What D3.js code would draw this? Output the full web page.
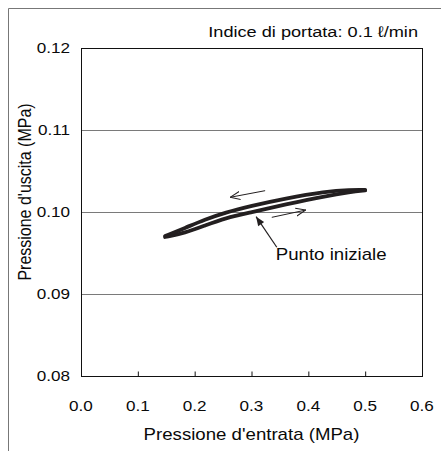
<!DOCTYPE html>
<html>
<head>
<meta charset="utf-8">
<script src="https://cdn.jsdelivr.net/npm/d3@7"></script>
<style>
  html, body { margin: 0; padding: 0; background: #fff; }
  svg { display: block; }
  text { font-family: "Liberation Sans", Arial, Helvetica, sans-serif; fill: #0a0a0a; }
</style>
</head>
<body>
<svg id="chart" width="441" height="451"></svg>
<script>
// Axis ticks
const xTicks = [0.0, 0.1, 0.2, 0.3, 0.4, 0.5, 0.6];
const yTicks = [0.08, 0.09, 0.10, 0.11, 0.12];

// Hysteresis loop: inlet pressure (MPa) vs outlet pressure (MPa)
const inletP = [0.148, 0.183, 0.218, 0.254, 0.298, 0.359, 0.430, 0.474, 0.500];
const outletRising = [0.09695, 0.09744, 0.09835, 0.09927, 0.09994, 0.10091, 0.10195, 0.10244, 0.10264];
const outletFalling = [0.09707, 0.09805, 0.09909, 0.09994, 0.10073, 0.10165, 0.10250, 0.10272, 0.10270];

// Annotation arrows [x1, y1, x2, y2] in data units
const arrowFalling = [0.324, 0.10260, 0.2623, 0.10179];
const arrowRising = [0.3357, 0.09935, 0.3956, 0.10024];
const arrowStart = [0.3445, 0.09570, 0.3081, 0.09943];
const startLabel = "Punto iniziale";
const titleText = "Indice di portata: 0.1 \u2113/min";
const xTitle = "Pressione d'entrata (MPa)";
const yTitle = "Pressione d'uscita (MPa)";

const SX = 1.18; // horizontal stretch of lettering

const svg = d3.select("#chart");
const plot = { left: 81, top: 48, right: 422, bottom: 376 };

const x = d3.scaleLinear().domain([0, 0.6]).range([plot.left, plot.right]);
const y = d3.scaleLinear().domain([0.08, 0.12]).range([plot.bottom, plot.top]);

function stretchedText(g, tx, ty, str, size, anchor, rotate) {
  return g.append("text")
    .attr("transform", rotate
      ? `translate(${tx},${ty}) rotate(-90) scale(1,${SX})`
      : `translate(${tx},${ty}) scale(${SX},1)`)
    .attr("font-size", size)
    .attr("text-anchor", anchor)
    .text(str);
}

// Outer frame (top and left edges)
svg.append("path")
  .attr("d", "M8.5,451 L8.5,8.5 L441,8.5")
  .attr("fill", "none").attr("stroke", "#777").attr("stroke-width", 1);

// Horizontal gridlines
svg.append("g").selectAll("line")
  .data(yTicks.filter(d => d > 0.08 && d < 0.12))
  .join("line")
  .attr("x1", plot.left).attr("x2", plot.right)
  .attr("y1", d => Math.round(y(d)) + 0.5).attr("y2", d => Math.round(y(d)) + 0.5)
  .attr("stroke", "#7a7a7a").attr("stroke-width", 1);

// X axis ticks pointing inward
const xAxis = d3.axisBottom(x).tickValues(xTicks).tickSize(-5).tickFormat("");
const gx = svg.append("g").attr("transform", `translate(0,${plot.bottom + 0.5})`).call(xAxis);
gx.select(".domain").remove();
gx.selectAll(".tick line").attr("stroke", "#111").attr("stroke-width", 1)
  .filter(d => d === 0 || d === 0.6).remove();

// Plot frame
svg.append("rect")
  .attr("x", plot.left + 0.5).attr("y", plot.top + 0.5)
  .attr("width", plot.right - plot.left).attr("height", plot.bottom - plot.top)
  .attr("fill", "none").attr("stroke", "#111").attr("stroke-width", 1);

// Tick labels
const labels = svg.append("g");
xTicks.forEach(d => stretchedText(labels, x(d), 411, d3.format(".1f")(d), 14.5, "middle"));
yTicks.forEach(d => stretchedText(labels, 70, y(d) + 5, d3.format(".2f")(d), 14.5, "end"));

// Axis titles and header
stretchedText(labels, (plot.left + plot.right) / 2, 440, xTitle, 15.8, "middle");
stretchedText(labels, 31, 192, yTitle, 16, "middle", true);
stretchedText(labels, 418, 37, titleText, 15.4, "end");

// Markers
const defs = svg.append("defs");
defs.append("marker")
  .attr("id", "openHead").attr("viewBox", "0 0 10 10")
  .attr("refX", 10).attr("refY", 5).attr("markerWidth", 10).attr("markerHeight", 10)
  .attr("markerUnits", "userSpaceOnUse").attr("orient", "auto")
  .append("path").attr("d", "M0,1 L10,5 L0,9")
  .attr("fill", "none").attr("stroke", "#231f20").attr("stroke-width", 1);
defs.append("marker")
  .attr("id", "solidHead").attr("viewBox", "0 0 10 10")
  .attr("refX", 10).attr("refY", 5).attr("markerWidth", 11).attr("markerHeight", 9)
  .attr("markerUnits", "userSpaceOnUse").attr("orient", "auto")
  .append("path").attr("d", "M0,1 L10,5 L0,9 Z").attr("fill", "#231f20");

// Hysteresis loop: rising and falling branches
const branchLine = d3.line().x(d => x(d[0])).y(d => y(d[1])).curve(d3.curveBasis);
[outletRising, outletFalling].forEach(series => {
  svg.append("path")
    .datum(inletP.map((p, i) => [p, series[i]]))
    .attr("d", branchLine)
    .attr("fill", "none").attr("stroke", "#231f20").attr("stroke-width", 3.8)
    .attr("stroke-linejoin", "round").attr("stroke-linecap", "round");
});

// Direction arrows
[arrowFalling, arrowRising].forEach(a => {
  svg.append("line")
    .attr("x1", x(a[0])).attr("y1", y(a[1])).attr("x2", x(a[2])).attr("y2", y(a[3]))
    .attr("stroke", "#231f20").attr("stroke-width", 1)
    .attr("marker-end", "url(#openHead)");
});
svg.append("line")
  .attr("x1", x(arrowStart[0])).attr("y1", y(arrowStart[1]))
  .attr("x2", x(arrowStart[2])).attr("y2", y(arrowStart[3]))
  .attr("stroke", "#231f20").attr("stroke-width", 1.2)
  .attr("marker-end", "url(#solidHead)");
stretchedText(labels, x(arrowStart[0]) - 1, y(arrowStart[1]) + 13, startLabel, 15.8, "start");
</script>
</body>
</html>
